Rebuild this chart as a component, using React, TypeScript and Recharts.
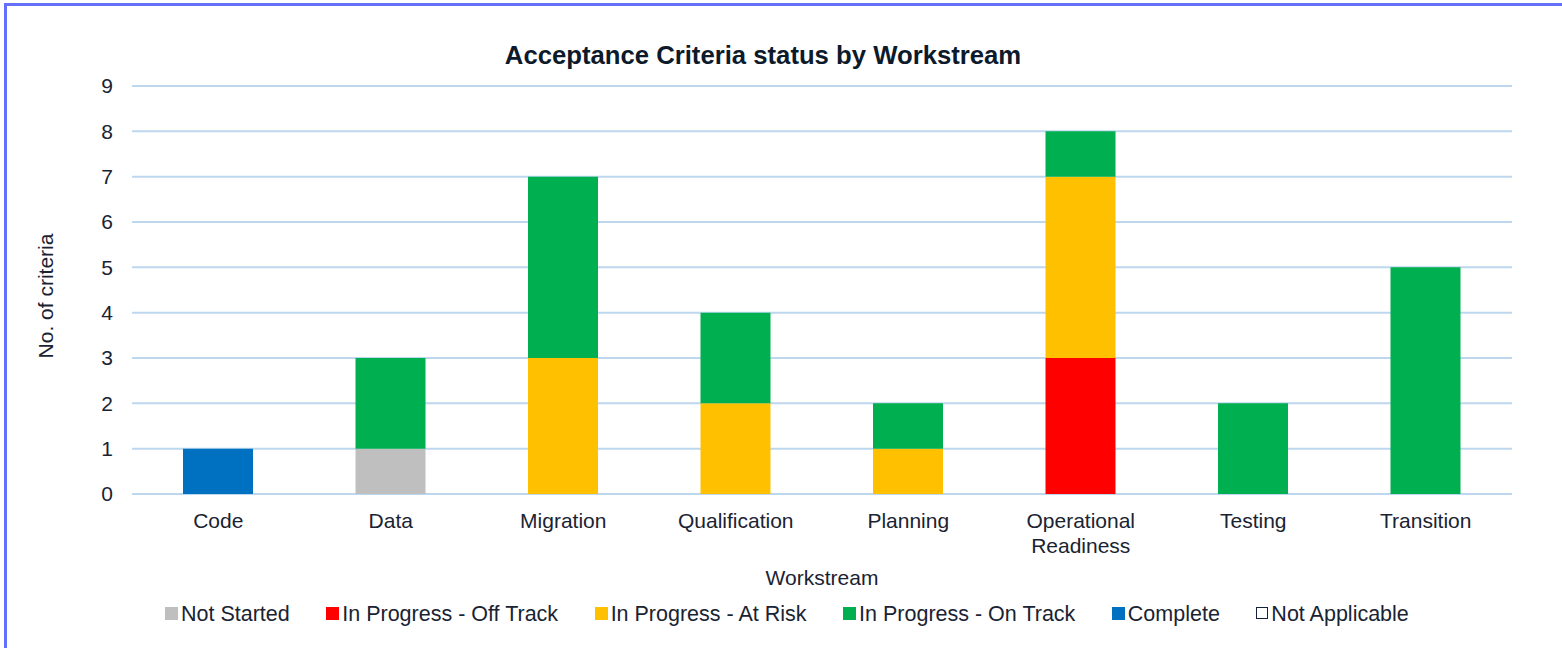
import React from "react";
import { BarChart, Bar, XAxis, YAxis, CartesianGrid, Legend, Label } from "recharts";

const workstreams = [
  "Code",
  "Data",
  "Migration",
  "Qualification",
  "Planning",
  "Operational Readiness",
  "Testing",
  "Transition",
];

// values per workstream, bottom of the stack first
const notStarted = [null, 1, null, null, null, null, null, null];
const offTrack = [null, null, null, null, null, 3, null, null];
const atRisk = [null, null, 3, 2, 1, 4, null, null];
const onTrack = [null, 2, 4, 2, 1, 1, 2, 5];
const complete = [1, null, null, null, null, null, null, null];
const notApplicable = [null, null, null, null, null, null, null, null];

const yTicks = [0, 1, 2, 3, 4, 5, 6, 7, 8, 9];

const series = [
  { key: "notStarted", name: "Not Started", color: "#bfbfbf", values: notStarted },
  { key: "offTrack", name: "In Progress - Off Track", color: "#ff0000", values: offTrack },
  { key: "atRisk", name: "In Progress - At Risk", color: "#ffc000", values: atRisk },
  { key: "onTrack", name: "In Progress - On Track", color: "#00b050", values: onTrack },
  { key: "complete", name: "Complete", color: "#0070c0", values: complete },
  { key: "notApplicable", name: "Not Applicable", color: "#ffffff", values: notApplicable },
];

const data = workstreams.map((name, i) => {
  const row: Record<string, any> = { name };
  series.forEach((s) => {
    row[s.key] = s.values[i];
  });
  return row;
});

const FONT = '"Liberation Sans", Arial, sans-serif';
const TEXT = "#1a2332";

function XTick({ x, y, payload }: any) {
  const lines = String(payload.value).split(" ");
  return (
    <text x={x} y={y + 17} textAnchor="middle" fontSize={21} fontFamily={FONT} fill={TEXT}>
      {lines.map((l, i) => (
        <tspan key={i} x={x} dy={i === 0 ? 15 : 25}>
          {l}
        </tspan>
      ))}
    </text>
  );
}

function LegendContent() {
  return (
    <div style={{ display: "flex", gap: 36.5, fontFamily: FONT, fontSize: 21.5, color: TEXT, lineHeight: "24px" }}>
      {series.map((s) => {
        const na = s.key === "notApplicable";
        return (
          <div key={s.key} style={{ display: "flex", alignItems: "center" }}>
            <span
              style={{
                display: "inline-block",
                width: na ? 10 : 13,
                height: na ? 10 : 13,
                background: s.color,
                border: na ? "1.5px solid #13233a" : "none",
                marginRight: 3,
                marginTop: -2,
              }}
            />
            <span>{s.name}</span>
          </div>
        );
      })}
    </div>
  );
}

export default function App() {
  return (
    <div style={{ position: "absolute", left: 0, top: 0, width: 1562, height: 648, overflow: "hidden", background: "#fff" }}>
      <div
        style={{
          position: "absolute",
          left: 4,
          top: 3,
          width: 1640,
          height: 720,
          border: "3px solid #6470fb",
          boxSizing: "border-box",
        }}
      />
      <div
        style={{
          position: "absolute",
          left: 0,
          top: 40,
          width: 1526,
          textAlign: "center",
          fontFamily: FONT,
          fontWeight: "bold",
          fontSize: 25.7,
          color: "#0c1a2b",
          lineHeight: "30px",
        }}
      >
        Acceptance Criteria status by Workstream
      </div>
      <div style={{ position: "absolute", left: 0, top: 0 }}>
        <BarChart width={1562} height={648} data={data} margin={{ top: 86, right: 50, left: 0, bottom: 54 }}>
          <CartesianGrid vertical={false} stroke="#bdd7ee" strokeWidth={2} />
          <XAxis
            dataKey="name"
            height={100}
            axisLine={false}
            tickLine={false}
            tickSize={0}
            interval={0}
            tick={<XTick />}
          >
            <Label
              content={({ viewBox }: any) => (
                <text
                  x={viewBox.x + viewBox.width / 2}
                  y={viewBox.y + 91}
                  textAnchor="middle"
                  fontSize={21}
                  fontFamily={FONT}
                  fill={TEXT}
                >
                  Workstream
                </text>
              )}
            />
          </XAxis>
          <YAxis
            width={132}
            domain={[0, 9]}
            ticks={yTicks}
            interval={0}
            axisLine={false}
            tickLine={false}
            tickSize={0}
            tickMargin={19}
            tick={{ fontSize: 21, fontFamily: FONT, fill: TEXT }}
          >
            <Label
              content={() => (
                <text
                  x={45}
                  y={296}
                  transform="rotate(-90, 45, 296)"
                  textAnchor="middle"
                  dominantBaseline="central"
                  fontSize={21}
                  fontFamily={FONT}
                  fill={TEXT}
                >
                  No. of criteria
                </text>
              )}
            />
          </YAxis>
          <Legend
            layout="horizontal"
            verticalAlign="middle"
            align="center"
            content={<LegendContent />}
            wrapperStyle={{ top: 602, left: 165, width: 1380 }}
          />
          {series.map((s) => (
            <Bar
              key={s.key}
              dataKey={s.key}
              name={s.name}
              stackId="a"
              fill={s.color}
              barSize={70}
              isAnimationActive={false}
            />
          ))}
        </BarChart>
      </div>
    </div>
  );
}
